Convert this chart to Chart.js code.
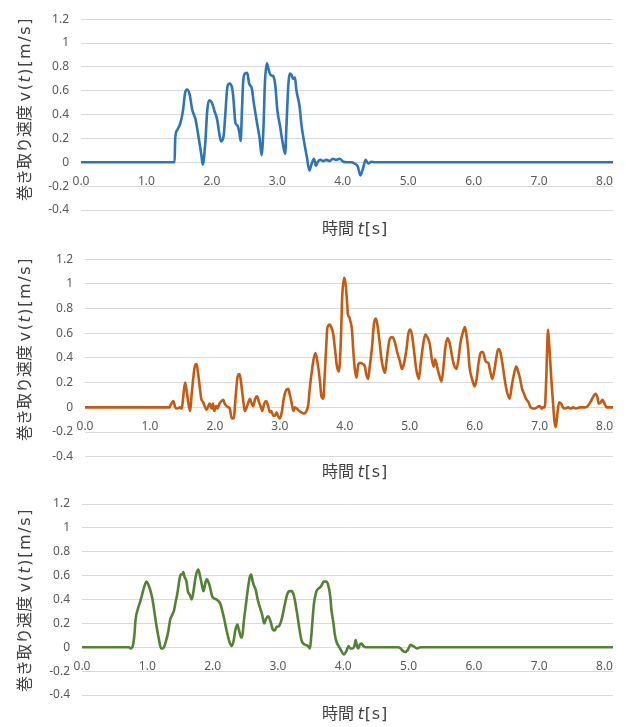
<!DOCTYPE html>
<html><head><meta charset="utf-8">
<script src="https://cdn.jsdelivr.net/npm/chart.js@4.4.1/dist/chart.umd.min.js"></script>
<style>
html,body{margin:0;padding:0;background:#fff;}
body{width:626px;height:727px;position:relative;overflow:hidden;font-family:"Noto Sans CJK JP",sans-serif;}
canvas{position:absolute;left:0;}
.xt,.yt{position:absolute;white-space:nowrap;font-size:16px;color:#404040;line-height:1;}
.xt{transform:translate(-50%,-50%);}
.yt{transform:translate(-50%,-50%) rotate(-90deg);}
.lat{font-family:"DejaVu Sans",sans-serif;}
.xt .lat{letter-spacing:0.8px;}
.yt .lat{letter-spacing:1.6px;}
</style></head><body>
<canvas id="c1" width="626" height="240" style="top:0px"></canvas>
<canvas id="c2" width="626" height="240" style="top:240px"></canvas>
<canvas id="c3" width="626" height="247" style="top:480px"></canvas>
<div class="xt" style="left:355px;top:228px">時間 <span class="lat"><i>t</i>[s]</span></div>
<div class="xt" style="left:355px;top:471px">時間 <span class="lat"><i>t</i>[s]</span></div>
<div class="xt" style="left:355px;top:713px">時間 <span class="lat"><i>t</i>[s]</span></div>
<div class="yt" style="left:24px;top:109px">巻き取り速度 <span class="lat">v(<i>t</i>)[m/s]</span></div>
<div class="yt" style="left:24px;top:349px">巻き取り速度 <span class="lat">v(<i>t</i>)[m/s]</span></div>
<div class="yt" style="left:24px;top:600px">巻き取り速度 <span class="lat">v(<i>t</i>)[m/s]</span></div>
<script>
// ---- data ----
const xTickLabels = ['0.0','1.0','2.0','3.0','4.0','5.0','6.0','7.0','8.0'];
const yTickLabels = ['-0.4','-0.2','0','0.2','0.4','0.6','0.8','1','1.2'];

const time1 = [0,1.43,1.44,1.47,1.52,1.56,1.59,1.62,1.66,1.70,1.75,1.80,1.84,1.86,1.90,1.93,1.96,2.00,2.04,2.08,2.12,2.14,2.18,2.20,2.24,2.27,2.31,2.33,2.36,2.39,2.42,2.44,2.46,2.48,2.51,2.54,2.57,2.61,2.64,2.69,2.73,2.76,2.79,2.81,2.84,2.87,2.90,2.94,2.97,3.00,3.04,3.08,3.12,3.14,3.17,3.19,3.22,3.24,3.27,3.29,3.34,3.37,3.41,3.45,3.49,3.52,3.56,3.59,3.62,3.66,3.70,3.75,3.80,3.85,3.90,3.95,4.01,4.06,4.13,4.18,4.23,4.27,4.31,4.35,4.39,4.44,4.49,8.13];
const speed1 = [0,0,0.20,0.27,0.33,0.44,0.58,0.61,0.57,0.44,0.36,0.20,0.06,-0.02,0.17,0.44,0.52,0.50,0.43,0.36,0.22,0.175,0.22,0.36,0.64,0.66,0.62,0.53,0.33,0.31,0.25,0.18,0.44,0.69,0.745,0.75,0.66,0.62,0.50,0.33,0.20,0.06,0.31,0.66,0.83,0.77,0.73,0.72,0.64,0.44,0.31,0.17,0.07,0.31,0.66,0.745,0.73,0.70,0.71,0.61,0.47,0.31,0.17,0.05,-0.07,-0.02,0.03,-0.03,0.005,0.02,0.01,0.02,0.01,0.03,0.02,0.03,0.005,0,0,-0.01,-0.035,-0.11,-0.05,0.02,-0.01,0.005,0,0];

const time2 = [0,1.30,1.32,1.36,1.39,1.42,1.46,1.49,1.51,1.54,1.56,1.59,1.62,1.64,1.67,1.69,1.72,1.74,1.77,1.79,1.82,1.85,1.87,1.90,1.92,1.95,1.97,1.99,2.02,2.04,2.07,2.10,2.13,2.15,2.18,2.21,2.23,2.26,2.29,2.32,2.35,2.38,2.41,2.44,2.46,2.49,2.51,2.54,2.56,2.59,2.62,2.65,2.68,2.71,2.73,2.76,2.79,2.82,2.85,2.87,2.90,2.92,2.95,2.97,3.00,3.03,3.06,3.09,3.13,3.15,3.18,3.21,3.23,3.26,3.30,3.33,3.37,3.41,3.44,3.46,3.49,3.52,3.55,
 3.59,3.62,3.64,3.67,3.69,3.72,3.73,3.77,3.79,3.82,3.85,3.88,3.91,3.94,3.96,3.99,4.01,4.03,4.05,4.07,4.09,4.11,4.13,4.15,4.18,4.21,4.24,4.28,4.31,4.33,4.36,4.38,4.42,4.45,4.48,4.51,4.54,4.56,4.59,4.62,4.64,4.67,4.69,4.73,4.75,4.78,4.81,4.85,4.88,4.91,4.95,4.98,5.01,5.04,5.07,5.10,5.14,5.17,5.21,5.24,5.27,5.31,5.34,5.37,5.39,5.43,5.46,5.49,5.52,5.55,5.58,5.61,5.63,5.66,5.69,5.72,5.75,5.78,5.82,5.85,
 5.87,5.90,5.92,5.96,6.00,6.03,6.06,6.09,6.12,6.14,6.17,6.21,6.24,6.27,6.30,6.33,6.36,6.38,6.41,6.44,6.47,6.50,6.54,6.57,6.61,6.64,6.67,6.70,6.73,6.76,6.79,6.83,6.86,6.90,6.93,6.96,7.00,7.03,7.05,7.08,7.10,7.13,7.15,7.18,7.21,7.23,7.25,7.27,7.30,7.33,7.36,7.39,7.44,7.48,7.51,7.56,7.62,7.67,7.70,7.74,7.78,7.82,7.86,7.89,7.91,7.94,7.97,8.00,8.03,8.08,8.13];
const speed2 = [0,0,0.02,0.05,0,-0.01,0,-0.01,0.07,0.20,0.15,0.04,-0.03,0.09,0.25,0.33,0.35,0.28,0.15,0.07,0.04,0,-0.02,0.01,0.03,-0.01,0.03,-0.03,0.01,-0.01,0.03,0.05,0.06,0.03,0.01,0,-0.01,-0.09,-0.09,0.09,0.25,0.27,0.17,0.04,-0.03,0,0.03,0.07,0.04,0.01,0.07,0.09,0.04,0,-0.03,0.03,0.05,0.01,-0.04,-0.03,-0.07,-0.07,-0.04,-0.07,-0.09,-0.04,0.07,0.13,0.15,0.11,0.04,-0.03,0,-0.01,-0.03,-0.04,-0.05,-0.03,0.03,0.15,0.28,0.39,0.44,
 0.33,0.20,0.09,0.07,0.25,0.55,0.64,0.67,0.65,0.60,0.47,0.33,0.29,0.55,0.89,1.05,1.01,0.89,0.75,0.73,0.69,0.63,0.47,0.33,0.24,0.35,0.36,0.35,0.33,0.27,0.23,0.31,0.49,0.68,0.72,0.64,0.51,0.41,0.32,0.28,0.36,0.49,0.55,0.57,0.56,0.51,0.44,0.37,0.31,0.35,0.47,0.60,0.63,0.57,0.44,0.31,0.23,0.36,0.52,0.59,0.57,0.51,0.39,0.33,0.39,0.31,0.25,0.21,0.33,0.49,0.56,0.53,0.48,0.39,0.33,0.31,0.39,0.52,0.61,0.65,
 0.60,0.47,0.33,0.23,0.17,0.23,0.36,0.44,0.45,0.43,0.37,0.36,0.29,0.23,0.29,0.39,0.47,0.47,0.41,0.31,0.20,0.12,0.07,0.17,0.28,0.33,0.29,0.23,0.15,0.11,0.07,0.04,0,-0.01,-0.01,0,0.01,-0.01,0,0,0.20,0.63,0.49,0.23,0.01,-0.12,-0.16,-0.07,0.04,0.03,0,-0.01,0,-0.01,0,-0.01,0,0,0,0.01,0.04,0.08,0.11,0.08,0.03,0.04,0.06,0.03,0,0,0];

const time3 = [0,0.72,0.74,0.77,0.80,0.82,0.86,0.89,0.92,0.96,0.99,1.02,1.05,1.08,1.11,1.14,1.18,1.21,1.24,1.28,1.32,1.35,1.38,1.41,1.43,1.46,1.49,1.51,1.54,1.55,1.57,1.60,1.62,1.65,1.68,1.71,1.74,1.78,1.81,1.84,1.86,1.89,1.91,1.94,1.97,1.99,2.02,2.06,2.10,2.12,2.15,2.18,2.21,2.25,2.29,2.32,2.35,2.38,2.40,2.43,2.45,2.48,2.51,2.54,2.57,2.59,2.61,2.63,2.66,2.69,2.72,2.76,2.79,2.82,2.85,2.89,2.92,2.95,2.98,3.02,3.05,3.08,3.11,3.14,3.18,3.21,3.24,3.27,3.30,3.33,3.36,3.39,3.42,3.46,3.49,3.51,3.53,3.55,3.58,3.60,3.64,3.67,3.70,3.74,3.77,3.80,3.82,3.85,3.87,3.90,3.93,3.97,4.01,4.05,4.08,4.11,4.14,4.17,4.19,4.21,4.23,4.25,4.28,4.31,4.34,4.39,4.83,4.88,4.91,4.95,4.99,5.03,5.07,5.10,5.13,5.18,8.13];
const speed3 = [0,0,-0.01,0,0.09,0.23,0.33,0.38,0.44,0.52,0.55,0.52,0.47,0.40,0.29,0.18,0.06,-0.01,-0.01,0.04,0.13,0.23,0.27,0.31,0.37,0.45,0.56,0.61,0.61,0.63,0.59,0.55,0.47,0.44,0.40,0.48,0.59,0.65,0.59,0.51,0.47,0.54,0.57,0.54,0.48,0.43,0.41,0.40,0.38,0.36,0.30,0.23,0.15,0.06,0.01,0.05,0.15,0.19,0.15,0.09,0.08,0.23,0.36,0.49,0.59,0.61,0.56,0.52,0.48,0.40,0.34,0.27,0.20,0.24,0.26,0.21,0.15,0.14,0.17,0.18,0.22,0.29,0.37,0.44,0.47,0.47,0.44,0.36,0.26,0.15,0.06,0.03,0.02,0.01,-0.01,0.09,0.23,0.36,0.45,0.48,0.50,0.52,0.55,0.55,0.52,0.43,0.31,0.20,0.11,0.04,0.01,-0.03,-0.06,-0.03,0.01,-0.01,-0.01,0.01,0.06,0.01,-0.01,0.02,0.03,0.01,0,0,0,-0.01,-0.03,-0.04,-0.02,0.02,0.01,0,-0.01,0,0];

// ---- drawing ----
function makeChart(id, times, speeds, color, area, H) {
  new Chart(document.getElementById(id), {
    type: 'line',
    data: { datasets: [{ data: times.map((t, i) => ({ x: t, y: speeds[i] })), borderColor: color, borderWidth: 2.6, pointRadius: 0,
                         cubicInterpolationMode: 'monotone', borderJoinStyle: 'round', borderCapStyle: 'round', fill: false }] },
    options: {
      responsive: false, animation: false, devicePixelRatio: 1,
      layout: { padding: { left: 0, top: area.top, right: 626 - area.right, bottom: H - area.bottom } },
      plugins: { legend: { display: false }, tooltip: { enabled: false } },
      scales: {
        x: {
          type: 'linear', min: 0, max: 8.13, position: { y: 0 },
          grid: { display: false, drawTicks: false }, border: { display: false },
          ticks: { stepSize: 1, includeBounds: false, autoSkip: false, maxRotation: 0, minRotation: 0, padding: 12,
                   color: '#595959', font: { family: 'Noto Sans', size: 12 },
                   callback: (v, i) => xTickLabels[i] }
        },
        y: {
          min: -0.4, max: 1.2,
          grid: { color: '#d9d9d9', lineWidth: 1, drawTicks: false }, border: { display: false },
          ticks: { stepSize: 0.2, padding: 12, color: '#595959', font: { family: 'Noto Sans', size: 12 },
                   callback: (v, i) => yTickLabels[i] },
          afterFit: s => { s.width = area.left; }
        }
      }
    }
  });
}
makeChart('c1', time1, speed1, '#2e75b6', { left: 81, right: 613, top: 14, bottom: 210 }, 240);
makeChart('c2', time2, speed2, '#c55a11', { left: 85, right: 613, top: 16.7, bottom: 216.7 }, 240);
makeChart('c3', time3, speed3, '#548235', { left: 82, right: 613, top: 24, bottom: 215 }, 247);
</script>
</body></html>
